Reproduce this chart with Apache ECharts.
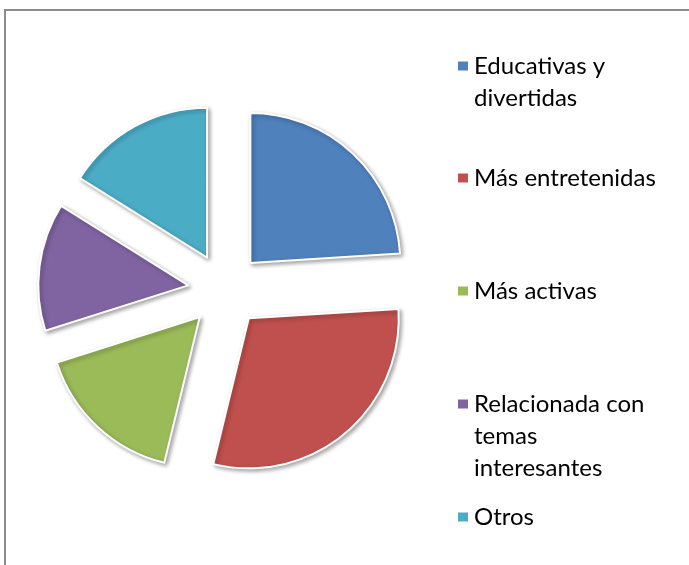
<!DOCTYPE html>
<html>
<head>
<meta charset="utf-8">
<script src="https://cdn.jsdelivr.net/npm/echarts@6/dist/echarts.min.js"></script>
<style>
  html, body { margin: 0; padding: 0; background: #fff; }
  #main { width: 689px; height: 565px; }
</style>
</head>
<body>
<div id="main"></div>
<script>
// categorias y valores (porcentaje aproximado)
var categorias = ['Educativas y divertidas', 'Más entretenidas', 'Más activas', 'Relacionada con temas interesantes', 'Otros'];
var etiquetas = ['Educativas y\ndivertidas', 'Más entretenidas', 'Más activas', 'Relacionada con\ntemas\ninteresantes', 'Otros'];
var valores = [24, 29.8, 16.3, 13.8, 16.1];
var colores = ['#4F81BD', '#C0504D', '#9BBB59', '#8064A2', '#4BACC6'];

// centro vertical de cada marcador de la leyenda
var leyendaY = [66, 178, 291, 404, 517];
var lineH = 32;

var chart = echarts.init(document.getElementById('main'));

var datos = [];
for (var i = 0; i < categorias.length; i++) {
    datos.push({ name: categorias[i], value: valores[i], selected: true });
}

// el marcador queda centrado en el bloque de texto, asi que se
// anaden lineas vacias arriba para alinearlo con la primera linea
var leyendas = [];
for (var i = 0; i < categorias.length; i++) {
    var lineas = etiquetas[i].split('\n');
    var texto = new Array(lineas.length).join('\n') + etiquetas[i];
    var alto = (2 * lineas.length - 1) * lineH;
    leyendas.push({
        data: [categorias[i]],
        left: 456,
        top: leyendaY[i] - alto / 2,
        padding: 0,
        itemWidth: 12,
        itemHeight: 11,
        itemGap: 0,
        icon: 'rect',
        selectedMode: false,
        formatter: (function (t) { return function () { return t; }; })(texto),
        textStyle: {
            fontFamily: 'Lato',
            fontSize: 24,
            color: '#000',
            lineHeight: lineH
        }
    });
}

var option = {
    animation: false,
    color: colores,
    legend: leyendas,
    graphic: [{
        type: 'rect',
        shape: { x: 5, y: 10, width: 720, height: 600 },
        style: { fill: 'none', stroke: '#8c8c8c', lineWidth: 2 },
        silent: true
    }],
    series: [{
        type: 'pie',
        center: [225, 290],
        radius: 150,
        startAngle: 90,
        clockwise: true,
        selectedMode: 'multiple',
        selectedOffset: 37,
        label: { show: false },
        labelLine: { show: false },
        itemStyle: {
            borderColor: '#fff',
            borderWidth: 2,
            shadowBlur: 4,
            shadowColor: 'rgba(0,0,0,0.35)',
            shadowOffsetX: 2,
            shadowOffsetY: 2
        },
        emphasis: { disabled: true },
        data: datos
    }]
};

chart.setOption(option);
</script>
</body>
</html>
